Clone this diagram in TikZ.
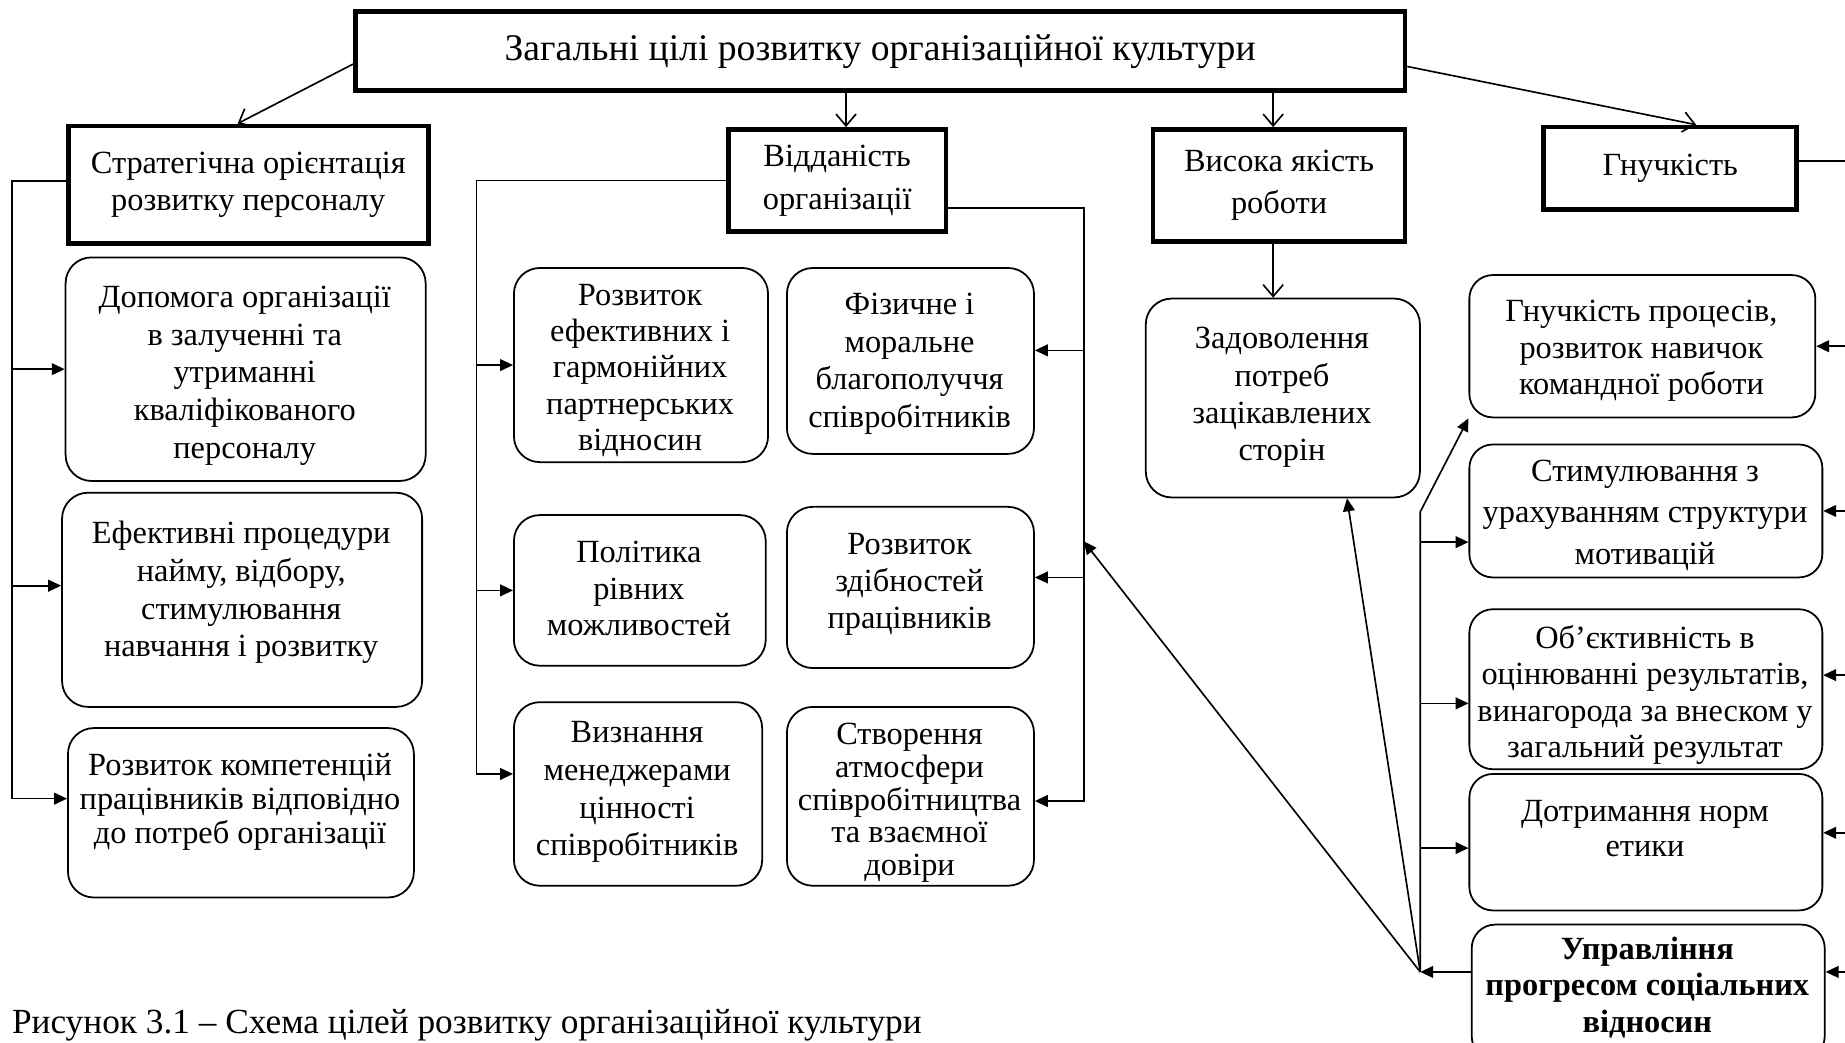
\documentclass[tikz,border=0pt]{standalone}
\usepackage{fontspec}
\setmainfont{Liberation Serif}
\usetikzlibrary{arrows.meta,calc}
\begin{document}
\begin{tikzpicture}[x=1pt,y=-1pt,
  tbox/.style={draw, line width=4pt, inner sep=0pt, align=center, anchor=north west, font=\fontsize{27.5}{34}\selectfont},
  rbox/.style={draw, line width=1.5pt, rounded corners=22pt, inner sep=0pt, anchor=north west},
  tx/.style={align=center, inner sep=0pt, anchor=north, font=\fontsize{27.5}{31}\selectfont},
  ln/.style={line width=1.4pt},
  farr/.style={ln, -{Triangle[length=11pt,width=10pt]}},
  varr/.style={ln, -{Straight Barb[length=10pt,width=17pt]}}
]
\useasboundingbox (0,0) rectangle (1568,886);
\fill[white] (0,0) rectangle (1568,886);
\clip (0,0) rectangle (1568,886);

% level 1 and 2
\node[tbox, minimum width=892pt, minimum height=67pt, font=\fontsize{32}{36}\selectfont] (main) at (300,8) {Загальні цілі розвитку організаційної культури};
\node[tbox, minimum width=306pt, minimum height=100pt, font=\fontsize{27.5}{32}\selectfont] (S) at (56,105) {Стратегічна орієнтація\\розвитку персоналу};
\node[tbox, minimum width=185pt, minimum height=87pt, font=\fontsize{27.5}{36}\selectfont] (V) at (617,108) {Відданість\\організації};
\node[tbox, minimum width=214pt, minimum height=95pt, font=\fontsize{27.5}{36}\selectfont] (Q) at (978,108) {Висока якість\\роботи};
\node[tbox, minimum width=215pt, minimum height=70pt] (G) at (1310,106) {Гнучкість};

% rounded boxes
\node[rbox, minimum width=306pt, minimum height=190pt] (a1) at (55,218) {};
\node[tx, font=\fontsize{27.5}{32}\selectfont] (a1t) at (208,243) {Допомога організації\\в залученні та\\утриманні\\кваліфікованого\\персоналу};
\node[rbox, minimum width=306pt, minimum height=182pt] (a2) at (52,418) {};
\node[tx, font=\fontsize{27.5}{32}\selectfont] (a2t) at (205,443) {Ефективні процедури\\найму, відбору,\\стимулювання\\навчання і розвитку};
\node[rbox, minimum width=294pt, minimum height=144pt] (a3) at (57,618) {};
\node[tx, font=\fontsize{27.5}{29}\selectfont] (a3t) at (204,640) {Розвиток компетенцій\\працівників відповідно\\до потреб організації};

\node[rbox, minimum width=216pt, minimum height=165pt] (b1) at (436,227) {};
\node[tx] (b1t) at (544,241) {Розвиток\\ефективних і\\гармонійних\\партнерських\\відносин};
\node[rbox, minimum width=214pt, minimum height=128pt] (b2) at (436,437) {};
\node[tx] (b2t) at (543,460) {Політика\\рівних\\можливостей};
\node[rbox, minimum width=211pt, minimum height=156pt] (b3) at (436,596) {};
\node[tx, font=\fontsize{27.5}{32}\selectfont] (b3t) at (541.5,613) {Визнання\\менеджерами\\цінності\\співробітників};

\node[rbox, minimum width=210pt, minimum height=158pt] (c1) at (668,227) {};
\node[tx, font=\fontsize{27.5}{32}\selectfont] (c1t) at (773,249) {Фізичне і\\моральне\\благополуччя\\співробітників};
\node[rbox, minimum width=210pt, minimum height=137pt] (c2) at (668,430) {};
\node[tx, font=\fontsize{27.5}{31.5}\selectfont] (c2t) at (773,453) {Розвиток\\здібностей\\працівників};
\node[rbox, minimum width=210pt, minimum height=152pt] (c3) at (668,600) {};
\node[tx, font=\fontsize{27.5}{28}\selectfont] (c3t) at (773,614) {Створення\\атмосфери\\співробітництва\\та взаємної\\довіри};

\node[rbox, minimum width=233pt, minimum height=169pt] (d1) at (973,253) {};
\node[tx, font=\fontsize{27.5}{31.7}\selectfont] (d1t) at (1089.5,278) {Задоволення\\потреб\\зацікавлених\\сторін};

\node[rbox, rounded corners=20pt, minimum width=294pt, minimum height=121pt] (e1) at (1248,233) {};
\node[tx] (e1t) at (1395,255) {Гнучкість процесів,\\розвиток навичок\\командної роботи};
\node[rbox, rounded corners=20pt, minimum width=300pt, minimum height=113pt] (e2) at (1248,377) {};
\node[tx, font=\fontsize{27.5}{35}\selectfont] (e2t) at (1398,391) {Стимулювання з\\урахуванням структури\\мотивацій};
\node[rbox, rounded corners=20pt, minimum width=300pt, minimum height=136pt] (e3) at (1248,517) {};
\node[tx] (e3t) at (1398,531) {Об’єктивність в\\оцінюванні результатів,\\винагорода за внеском у\\загальний результат};
\node[rbox, rounded corners=20pt, minimum width=300pt, minimum height=116pt] (e4) at (1248,657) {};
\node[tx, font=\fontsize{27.5}{30}\selectfont] (e4t) at (1398,680) {Дотримання норм\\етики};
\node[rbox, rounded corners=20pt, minimum width=300pt, minimum height=115pt] (e5) at (1250,785) {};
\node[tx, font=\fontsize{27.5}{31}\selectfont\bfseries] (e5t) at (1400,796) {Управління\\прогресом соціальних\\відносин};

% caption
\node[anchor=base west, inner sep=0pt, font=\fontsize{30}{34}\selectfont] (cap) at (10,878) {Рисунок 3.1 – Схема цілей розвитку організаційної культури};

% main tree
\coordinate (m1) at ($(main.west)+(0,11)$);
\coordinate (s1) at ($(S.north)+(-9,0)$);
\draw[varr] (m1) -- (s1);
\coordinate (v0) at ($(V.north)+(7.5,0)$);
\draw[varr] (v0 |- main.south) -- (v0);
\coordinate (q0) at ($(Q.north)+(-5,0)$);
\draw[varr] (q0 |- main.south) -- (q0);
\coordinate (m2) at ($(main.east)+(0,13)$);
\coordinate (g0) at ($(G.north)+(22,0)$);
\draw[varr] (m2) -- (g0);
\coordinate (q1) at ($(Q.south)+(-5,0)$);
\draw[varr] (q1) -- (q1 |- d1.north);

% strategic bus
\coordinate (sb) at (10,0);
\coordinate (s2) at ($(S.west)+(0,-3)$);
\coordinate (a2in) at ($(a2.west)+(0,-12)$);
\coordinate (a3in) at ($(a3.west)+(0,-12)$);
\draw[farr] (s2) -| (sb |- a3in) -- (a3in);
\draw[farr] (sb |- a1.west) -- (a1.west);
\draw[farr] (sb |- a2in) -- (a2in);

% commitment left bus
\coordinate (vl) at (405,0);
\coordinate (b3in) at ($(b3.west)+(0,-17)$);
\draw[farr] (V.west) -| (vl |- b3in) -- (b3in);
\draw[farr] (vl |- b1.west) -- (b1.west);
\draw[farr] (vl |- b2.west) -- (b2.west);

% commitment right bus
\coordinate (vr) at (921,0);
\coordinate (v2) at ($(V.east)+(0,23.5)$);
\coordinate (c1in) at ($(c1.east)+(0,-9)$);
\coordinate (c2in) at ($(c2.east)+(0,-8.5)$);
\coordinate (c3in) at ($(c3.east)+(0,4)$);
\draw[farr] (v2) -| (vr |- c3in) -- (c3in);
\draw[farr] (vr |- c1in) -- (c1in);
\draw[farr] (vr |- c2in) -- (c2in);

% hub of social progress
\coordinate (hub) at (1207,826);
\draw[farr] (hub -| e5.west) -- (hub);
\coordinate (vhit) at (921,460);
\draw[farr] (hub) -- (vhit);
\coordinate (dhit) at ($(d1.south)+(54.5,0)$);
\draw[farr] (hub) -- (dhit);
\coordinate (kink) at (1207,435);
\draw[farr] (hub) -- (kink) -- (e1.south west);
\coordinate (e2in) at ($(e2.west)+(0,26.5)$);
\draw[farr] (kink |- e2in) -- (e2in);
\coordinate (e3in) at ($(e3.west)+(0,12)$);
\draw[farr] (kink |- e3in) -- (e3in);
\coordinate (e4in) at ($(e4.west)+(0,5)$);
\draw[farr] (kink |- e4in) -- (e4in);

% right edge
\coordinate (re) at (1568,0);
\coordinate (g1) at ($(G.east)+(0,-6)$);
\draw[ln] (g1) -- (g1 -| re);
\draw[farr] (re |- e1.east) -- (e1.east);
\draw[farr] (re |- e2.east) -- (e2.east);
\coordinate (e3out) at ($(e3.east)+(0,-12)$);
\draw[farr] (re |- e3out) -- (e3out);
\coordinate (e4out) at ($(e4.east)+(0,-8)$);
\draw[farr] (re |- e4out) -- (e4out);
\draw[farr] (re |- hub) -- (hub -| e5.east);
\end{tikzpicture}
\end{document}
